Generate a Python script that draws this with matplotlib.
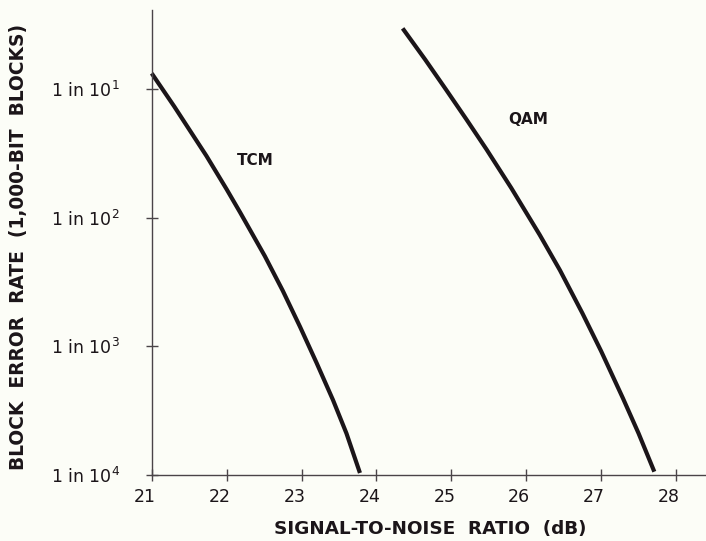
import numpy as np
import matplotlib
matplotlib.use("Agg")
import matplotlib.pyplot as plt
from matplotlib.transforms import ScaledTranslation

# Block error rate vs. SNR for trellis-coded modulation and plain QAM
tcm_snr = [21.00, 21.30, 21.73, 22.00, 22.18, 22.51, 22.75, 22.98,
           23.20, 23.42, 23.60, 23.78]
tcm_log_rate = [-0.878, -1.135, -1.520, -1.780, -1.960, -2.300, -2.570,
                -2.850, -3.130, -3.420, -3.680, -3.988]

qam_snr = [24.35, 24.65, 24.93, 25.20, 25.47, 25.80, 26.18, 26.45,
           26.75, 27.00, 27.29, 27.50, 27.71]
qam_log_rate = [-0.528, -0.770, -1.005, -1.235, -1.470, -1.770, -2.135,
                -2.410, -2.745, -3.040, -3.405, -3.680, -3.978]

x_ticks = [21, 22, 23, 24, 25, 26, 27, 28]
y_ticks = [1e-1, 1e-2, 1e-3, 1e-4]
y_tick_labels = [r"1 in 10$^{1}$", r"1 in 10$^{2}$",
                 r"1 in 10$^{3}$", r"1 in 10$^{4}$"]

INK = "#1b1519"
AXIS = "#4a4448"
BG = "#fcfdf7"

plt.rcParams["font.family"] = ["DejaVu Sans"]
plt.rcParams["mathtext.fontset"] = "dejavusans"

fig = plt.figure(figsize=(7.06, 5.41), dpi=100, facecolor=BG)
ax = fig.add_axes([0.2149, 0.1229, 1.0 - 0.2149, 0.8586])
ax.set_facecolor(BG)

ax.plot(tcm_snr, 10 ** np.array(tcm_log_rate), color=INK, lw=3.0,
        solid_capstyle="butt", solid_joinstyle="round", clip_on=False)
ax.plot(qam_snr, 10 ** np.array(qam_log_rate), color=INK, lw=3.0,
        solid_capstyle="butt", solid_joinstyle="round", clip_on=False)

ax.set_yscale("log")
ax.set_xlim(21, 28.4)
ax.set_ylim(1e-4, 10 ** -0.385)

ax.set_xticks(x_ticks)
ax.set_xticklabels([str(v) for v in x_ticks])
ax.set_yticks(y_ticks)
ax.set_yticklabels(y_tick_labels)
ax.yaxis.set_minor_locator(matplotlib.ticker.NullLocator())

for side in ("top", "right"):
    ax.spines[side].set_visible(False)
for side in ("left", "bottom"):
    ax.spines[side].set_color(AXIS)
    ax.spines[side].set_linewidth(1.0)

ax.tick_params(axis="both", direction="inout", length=8, width=1.0,
               color=AXIS, labelcolor=INK, labelsize=12.5)
ax.tick_params(axis="x", pad=6)
ax.tick_params(axis="y", pad=19)

# numbers sit a little left of their ticks
shift = ScaledTranslation(-7 / 100, 0, fig.dpi_scale_trans)
for lab in ax.get_xticklabels():
    lab.set_transform(lab.get_transform() + shift)

ax.text(22.38, 10 ** -1.553, "TCM", fontsize=11, fontweight="bold",
        color=INK, ha="center", va="center")
ax.text(26.02, 10 ** -1.24, "QAM", fontsize=11, fontweight="bold",
        color=INK, ha="center", va="center")

fig.text(430 / 706, 1 - 529 / 541, "SIGNAL-TO-NOISE  RATIO  (dB)",
         fontsize=13.2, fontweight="bold", color=INK,
         ha="center", va="center")
fig.text(19 / 706, 1 - 247 / 541, "BLOCK  ERROR  RATE  (1,000-BIT  BLOCKS)",
         fontsize=13.4, fontweight="bold", color=INK, rotation=90,
         ha="center", va="center")

fig.savefig("out.png", dpi=100, facecolor=BG)
